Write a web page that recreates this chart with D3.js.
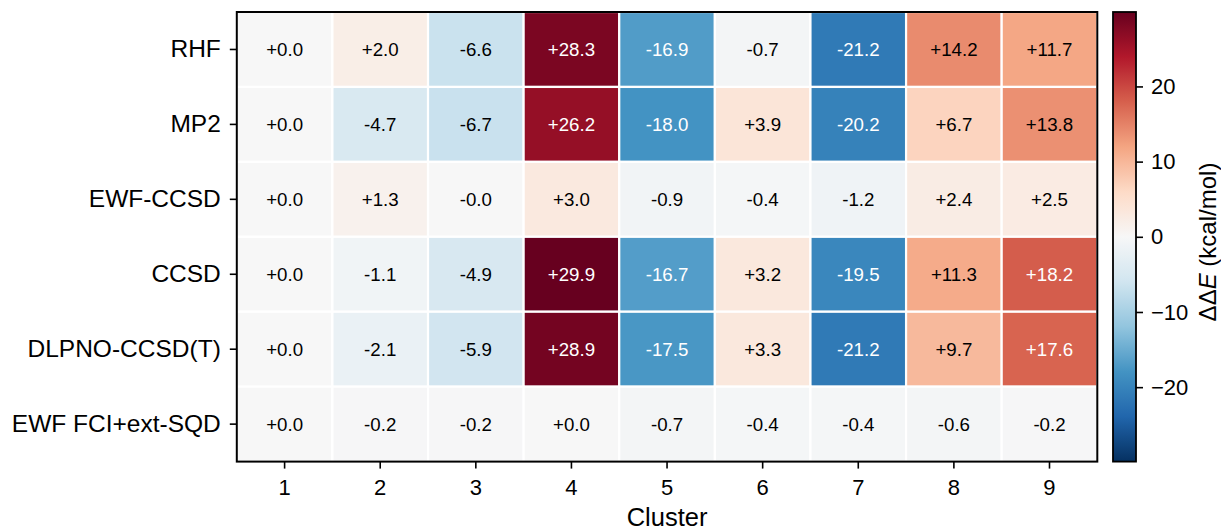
<!DOCTYPE html>
<html>
<head>
<meta charset="utf-8">
<script src="https://cdn.jsdelivr.net/npm/d3@7"></script>
<style>
  html, body { margin: 0; padding: 0; background: #fff; }
  svg { display: block; font-family: "Liberation Sans", Arial, Helvetica, sans-serif; }
</style>
</head>
<body>
<svg id="chart" width="1221" height="531"></svg>
<script>
// ---- data ----
const methods = ["RHF", "MP2", "EWF-CCSD", "CCSD", "DLPNO-CCSD(T)", "EWF FCI+ext-SQD"];
const clusters = ["1", "2", "3", "4", "5", "6", "7", "8", "9"];
const rhfValues    = [0.0, 2.0, -6.6, 28.3, -16.9, -0.7, -21.2, 14.2, 11.7];
const mp2Values    = [0.0, -4.7, -6.7, 26.2, -18.0, 3.9, -20.2, 6.7, 13.8];
const ewfCcsdValues = [0.0, 1.3, -0.0, 3.0, -0.9, -0.4, -1.2, 2.4, 2.5];
const ccsdValues   = [0.0, -1.1, -4.9, 29.9, -16.7, 3.2, -19.5, 11.3, 18.2];
const dlpnoValues  = [0.0, -2.1, -5.9, 28.9, -17.5, 3.3, -21.2, 9.7, 17.6];
const sqdValues    = [0.0, -0.2, -0.2, 0.0, -0.7, -0.4, -0.4, -0.6, -0.2];
const colorbarTicks = [-20, -10, 0, 10, 20];
const xTitle = "Cluster";

const rows = [rhfValues, mp2Values, ewfCcsdValues, ccsdValues, dlpnoValues, sqdValues];

// ---- layout ----
const plot = { left: 236.8, right: 1097.3, top: 12, bottom: 461.6 };
const cbar = { left: 1113, right: 1136, top: 12, bottom: 461.6 };
const FONT = "'Liberation Sans', Arial, Helvetica, sans-serif";

const svg = d3.select("#chart");

const cells = [];
rows.forEach((r, i) => r.forEach((v, j) => cells.push({ method: methods[i], cluster: clusters[j], v })));

const vmax = d3.max(cells, d => Math.abs(d.v));

// matplotlib RdBu_r (linear segmented)
const rdbuR = ["#053061", "#2166ac", "#4393c3", "#92c5de", "#d1e5f0", "#f7f7f7",
               "#fddbc7", "#f4a582", "#d6604d", "#b2182b", "#67001f"];
const color = d3.scaleLinear()
  .domain(d3.range(11).map(k => -vmax + k * (2 * vmax) / 10))
  .range(rdbuR)
  .interpolate(d3.interpolateRgb)
  .clamp(true);

const x = d3.scaleBand().domain(clusters).range([plot.left, plot.right]).padding(0);
const y = d3.scaleBand().domain(methods).range([plot.top, plot.bottom]).padding(0);

// cells
svg.append("g").selectAll("rect").data(cells).join("rect")
  .attr("x", d => x(d.cluster))
  .attr("y", d => y(d.method))
  .attr("width", x.bandwidth())
  .attr("height", y.bandwidth())
  .attr("fill", d => color(d.v))
  .attr("stroke", "#fff")
  .attr("stroke-width", 2.2);

// annotations
const fmt = v => ((v < 0 || Object.is(v, -0)) ? "-" : "+") + Math.abs(v).toFixed(1);
svg.append("g").selectAll("text").data(cells).join("text")
  .attr("x", d => x(d.cluster) + x.bandwidth() / 2)
  .attr("y", d => y(d.method) + y.bandwidth() / 2)
  .attr("dy", "0.35em")
  .attr("text-anchor", "middle")
  .style("font-family", FONT)
  .style("font-size", "18.7px")
  .attr("fill", d => Math.abs(d.v) > vmax / 2 ? "#ffffff" : "#000000")
  .text(d => fmt(d.v));

// frame
svg.append("rect")
  .attr("x", plot.left).attr("y", plot.top)
  .attr("width", plot.right - plot.left).attr("height", plot.bottom - plot.top)
  .attr("fill", "none").attr("stroke", "#000").attr("stroke-width", 2);

// axes
const xAxis = svg.append("g")
  .attr("transform", `translate(0,${plot.bottom})`)
  .call(d3.axisBottom(x).tickSize(7).tickPadding(11));
xAxis.select(".domain").remove();
xAxis.selectAll("line").attr("stroke", "#000").attr("stroke-width", 1.6);
xAxis.selectAll("text").style("font-family", FONT).style("font-size", "22px").attr("fill", "#000");

const yAxis = svg.append("g")
  .attr("transform", `translate(${plot.left},0)`)
  .call(d3.axisLeft(y).tickSize(7).tickPadding(9));
yAxis.select(".domain").remove();
yAxis.selectAll("line").attr("stroke", "#000").attr("stroke-width", 1.6);
yAxis.selectAll("text").style("font-family", FONT).style("font-size", "24.5px").attr("fill", "#000");

svg.append("text")
  .attr("x", (plot.left + plot.right) / 2)
  .attr("y", 526)
  .attr("text-anchor", "middle")
  .style("font-family", FONT)
  .style("font-size", "25.5px")
  .attr("fill", "#000")
  .text(xTitle);

// colorbar
const defs = svg.append("defs");
const grad = defs.append("linearGradient").attr("id", "cbgrad")
  .attr("x1", 0).attr("y1", 1).attr("x2", 0).attr("y2", 0);
d3.range(0, 1.0001, 0.02).forEach(t => {
  grad.append("stop").attr("offset", t).attr("stop-color", color(-vmax + t * 2 * vmax));
});
svg.append("rect")
  .attr("x", cbar.left).attr("y", cbar.top)
  .attr("width", cbar.right - cbar.left).attr("height", cbar.bottom - cbar.top)
  .attr("fill", "url(#cbgrad)")
  .attr("stroke", "#000").attr("stroke-width", 1.8);

const cScale = d3.scaleLinear().domain([-vmax, vmax]).range([cbar.bottom, cbar.top]);
const cAxis = svg.append("g")
  .attr("transform", `translate(${cbar.right},0)`)
  .call(d3.axisRight(cScale).tickValues(colorbarTicks).tickSize(7).tickPadding(8)
    .tickFormat(v => (v < 0 ? "\u2212" : "") + Math.abs(v)));
cAxis.select(".domain").remove();
cAxis.selectAll("line").attr("stroke", "#000").attr("stroke-width", 1.6);
cAxis.selectAll("text").style("font-family", FONT).style("font-size", "22px").attr("fill", "#000");

const cLabel = svg.append("text")
  .attr("transform", `translate(1216,242) rotate(-90)`)
  .attr("text-anchor", "middle")
  .style("font-family", FONT)
  .style("font-size", "24px")
  .attr("fill", "#000");
cLabel.append("tspan").text("\u0394\u0394");
cLabel.append("tspan").style("font-style", "italic").text("E");
cLabel.append("tspan").text(" (kcal/mol)");
</script>
</body>
</html>
